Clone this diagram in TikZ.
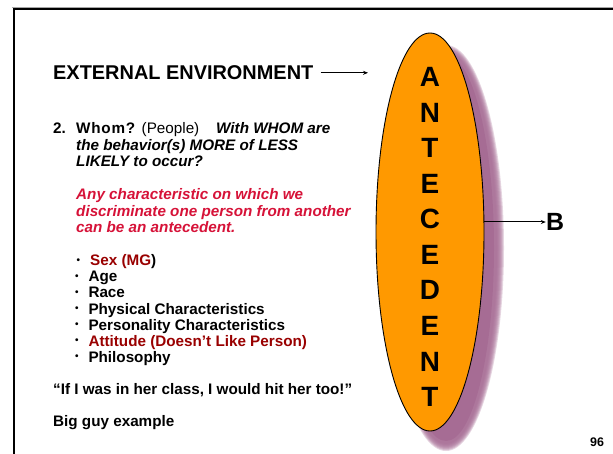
\documentclass[tikz,border=0pt]{standalone}
\usepackage{fontspec}
\setmainfont{Liberation Sans}
\usetikzlibrary{shapes.geometric,arrows.meta}
\definecolor{eggorange}{RGB}{255,153,0}
\definecolor{shadowpurple}{RGB}{166,108,148}
\definecolor{hotred}{RGB}{214,18,56}
\definecolor{darkred}{RGB}{153,0,0}
\newcommand{\bodysize}{\fontsize{15.3}{16}\selectfont}
\begin{document}
\begin{tikzpicture}[x=1bp,y=-1bp,
  txt/.style={inner sep=0,anchor=base west,font=\bodysize\bfseries},
  itxt/.style={txt,font=\bodysize\bfseries\itshape},
  redtxt/.style={itxt,text=hotred},
  bul/.style={inner sep=0,anchor=base,font=\fontsize{10}{10}\selectfont\bfseries},
  letter/.style={inner sep=0,anchor=base,font=\fontsize{28}{30}\selectfont\bfseries},
  conn/.style={-{Stealth[length=5bp,width=4bp]},line width=1bp}]
\useasboundingbox (0,0) rectangle (613,454);

% slide frame
\draw[gray!70,line width=1.6bp] (12,7.5) -- (613,7.5);
\draw[black,line width=2.2bp,line cap=rect] (13.8,454) -- (13.8,9.4) -- (613,9.4);

% soft shadow of the ellipse
\foreach \i in {0,...,7}
  \fill[shadowpurple,opacity=0.28] (446,248) ellipse ({58-\i} and {203-\i});
\fill[shadowpurple] (446,248) ellipse (48 and 193);

% the antecedent ellipse
\node[ellipse,draw=black,line width=0.9bp,fill=eggorange,
      minimum width=108bp,minimum height=398bp,inner sep=0] (ant) at (430,232) {};
\foreach \ch [count=\k from 0] in {A,N,T,E,C,E,D,E,N,T}
  \node[letter] (let\k) at (430,{86.7+35.55*\k}) {\ch};

% heading with its arrow
\node[txt,font=\fontsize{20}{22}\selectfont\bfseries] (ext) at (53,80) {EXTERNAL ENVIRONMENT};
\coordinate (extend) at (368,72.8);
\draw[-{Stealth[length=5bp,width=4bp]},line width=0.8bp] ([xshift=7bp]ext.east |- extend) -- (extend);

% behaviour
\node[inner sep=0,anchor=base,font=\fontsize{25}{27}\selectfont\bfseries] (beh) at (555,231) {B};
\draw[conn] (ant.east |- 0,222) -- (beh.west |- 0,222);

% question
\node[txt] (num) at (53,134) {2.};
\node[txt] (whom) at (76,134) {W\kern0.8bp h\kern0.8bp o\kern0.8bp m\kern0.8bp ?};
\node[txt,font=\bodysize] (ppl) at (141.5,134) {(People)};
\node[itxt] (q1) at (216,134) {With WHOM are};
\node[itxt] (q2) at (76,150.5) {the behavior(s) MORE of LESS};
\node[itxt] (q3) at (76,167) {LIKELY to occur?};

% definition
\node[redtxt] (d1) at (76,200) {Any characteristic on which we};
\node[redtxt] (d2) at (76,216.3) {discriminate one person from another};
\node[redtxt] (d3) at (76,232.3) {can be an antecedent.};

% list of characteristics
\node[bul] (b1) at (78.3,263.5) {•};
\node[txt] (i1) at (90,266) {\textcolor{darkred}{Sex (MG}\textcolor{black}{)}};
\node[bul] (b2) at (76.8,279.5) {•};
\node[txt] (i2) at (88.3,282) {Age};
\node[bul] (b3) at (76.8,295.5) {•};
\node[txt] (i3) at (88.3,298) {Race};
\node[bul] (b4) at (76.8,311.5) {•};
\node[txt] (i4) at (88.3,314) {Physical Characteristics};
\node[bul] (b5) at (76.8,327.5) {•};
\node[txt] (i5) at (88.3,330) {Personality Characteristics};
\node[bul] (b6) at (76.8,343.5) {•};
\node[txt,text=darkred] (i6) at (88.3,346) {Attitude (Doesn’t Like Person)};
\node[bul] (b7) at (76.8,359.5) {•};
\node[txt] (i7) at (88.3,362) {Philosophy};

% closing remarks
\node[txt] (quote) at (53,394) {“If I was in her class, I would hit her too!”};
\node[txt] (big) at (53,426.7) {Big guy example};

% slide number
\node[inner sep=0,anchor=base,font=\fontsize{12.5}{14}\selectfont\bfseries] (pg) at (597,446.5) {96};
\end{tikzpicture}
\end{document}
